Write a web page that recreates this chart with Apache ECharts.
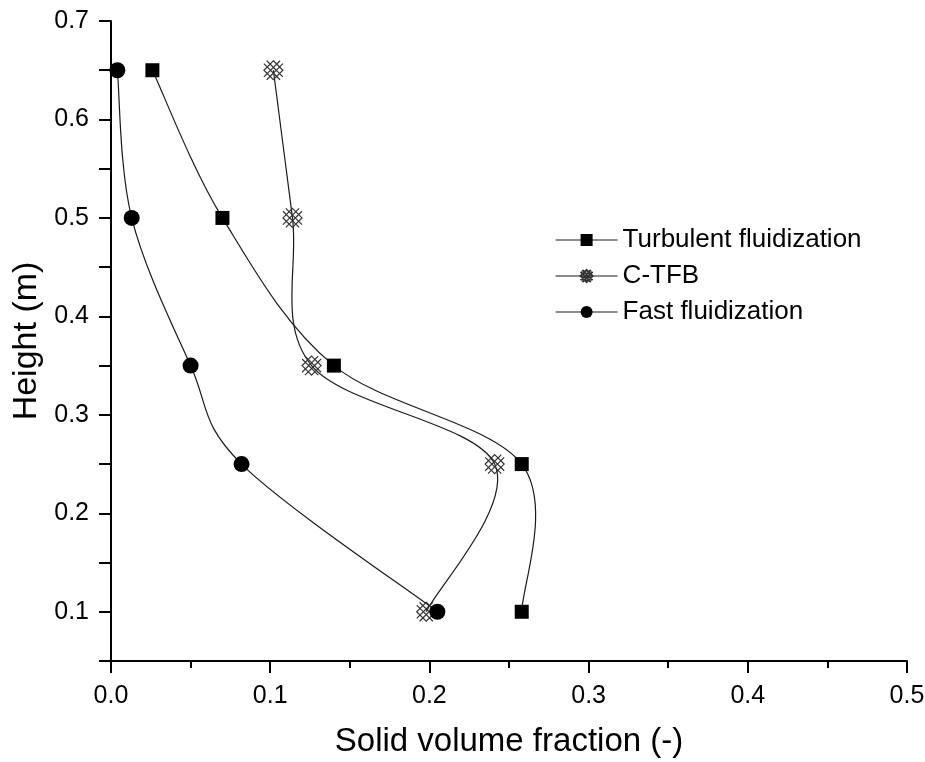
<!DOCTYPE html>
<html>
<head>
<meta charset="utf-8">
<script src="https://cdn.jsdelivr.net/npm/echarts@6/dist/echarts.min.js"></script>
<style>
  html, body { margin: 0; padding: 0; background: #fff; }
  #main { width: 925px; height: 762px; }
</style>
</head>
<body>
<div id="main"></div>
<script>
// heights (m), top to bottom
const heights = [0.65, 0.5, 0.35, 0.25, 0.1]
// solid volume fraction per regime
const turbulent = [0.026, 0.070, 0.140, 0.258, 0.258]
const ctfb = [0.102, 0.114, 0.126, 0.241, 0.198]
const fast = [0.004, 0.013, 0.050, 0.082, 0.205]

const seriesNames = ['Turbulent fluidization', 'C-TFB', 'Fast fluidization']
const xTicks = ['0.0', '0.1', '0.2', '0.3', '0.4', '0.5']

// crossed diamond symbol (C-TFB)
const crossDiamond = 'path://M10,0 L20,10 L10,20 L0,10 Z M3,0 L20,17 M0,3 L17,20 M17,0 L0,17 M20,3 L3,20'

const FONT = 'Liberation Sans, Arial, sans-serif'

const pairs = vals => vals.map((v, i) => [v, heights[i]])

// spline through the points (catmull-rom), drawn in pixel space from api.coord
function splineItem (vals) {
  return function (params, api) {
    if (params.dataIndex !== 0) return null
    const p = pairs(vals).map(d => api.coord(d))
    let d = 'M' + p[0][0] + ',' + p[0][1]
    for (let i = 0; i < p.length - 1; i++) {
      const p0 = p[i - 1] || p[i]
      const p1 = p[i]
      const p2 = p[i + 1]
      const p3 = p[i + 2] || p[i + 1]
      const c1x = p1[0] + (p2[0] - p0[0]) / 6
      const c1y = p1[1] + (p2[1] - p0[1]) / 6
      const c2x = p2[0] - (p3[0] - p1[0]) / 6
      const c2y = p2[1] - (p3[1] - p1[1]) / 6
      d += ' C' + c1x + ',' + c1y + ' ' + c2x + ',' + c2y + ' ' + p2[0] + ',' + p2[1]
    }
    return {
      type: 'path',
      shape: { pathData: d },
      style: { fill: 'none', stroke: '#1a1a1a', lineWidth: 1.2 }
    }
  }
}

const chart = echarts.init(document.getElementById('main'))

chart.setOption({
  animation: false,
  textStyle: { fontFamily: FONT, color: '#000' },
  grid: { left: 111, right: 18, top: 21, bottom: 101, outerBoundsMode: 'none', containLabel: false },
  legend: {
    left: 550,
    top: 222,
    orient: 'vertical',
    itemWidth: 62,
    itemHeight: 15,
    itemGap: 10,
    lineStyle: { color: '#1a1a1a', width: 1.2, opacity: 1 },
    textStyle: { fontSize: 26, color: '#000', fontFamily: FONT, padding: [0, 0, 0, 0] },
    data: seriesNames
  },
  xAxis: {
    type: 'value',
    min: 0,
    max: 0.5,
    interval: 0.1,
    name: 'Solid volume fraction (-)',
    nameLocation: 'middle',
    nameGap: 64,
    nameTextStyle: { fontSize: 33, color: '#000', fontFamily: FONT },
    axisLine: { lineStyle: { color: '#000', width: 2 } },
    axisTick: { length: 12, lineStyle: { color: '#000', width: 2 } },
    minorTick: { show: true, splitNumber: 2, length: 7, lineStyle: { color: '#000', width: 2 } },
    splitLine: { show: false },
    axisLabel: {
      fontSize: 25,
      color: '#000',
      fontFamily: FONT,
      margin: 23,
      formatter: v => xTicks[Math.round(v * 10)]
    }
  },
  yAxis: {
    type: 'value',
    min: 0.05,
    max: 0.7,
    interval: 0.05,
    name: 'Height (m)',
    nameLocation: 'middle',
    nameGap: 66,
    nameTextStyle: { fontSize: 34, color: '#000', fontFamily: FONT },
    axisLine: { show: true, lineStyle: { color: '#000', width: 2 } },
    axisTick: {
      show: true,
      length: 12,
      lineStyle: { color: '#000', width: 2 }
    },
    splitLine: { show: false },
    axisLabel: {
      fontSize: 25,
      color: '#000',
      fontFamily: FONT,
      margin: 22,
      formatter: v => (Math.round(v * 100) % 10 === 0 ? v.toFixed(1) : '')
    }
  },
  series: [
    {
      name: seriesNames[0],
      type: 'line',
      data: pairs(turbulent),
      symbol: 'rect',
      symbolSize: 14,
      z: 3,
      itemStyle: { color: '#000' },
      lineStyle: { opacity: 0 }
    },
    {
      name: seriesNames[1],
      type: 'line',
      data: pairs(ctfb),
      symbol: crossDiamond,
      symbolSize: 19,
      z: 3,
      itemStyle: { color: 'rgba(255,255,255,0)', borderColor: '#333', borderWidth: 1.2 },
      lineStyle: { opacity: 0 }
    },
    {
      name: seriesNames[2],
      type: 'line',
      data: pairs(fast),
      symbol: 'circle',
      symbolSize: 16,
      z: 3,
      itemStyle: { color: '#000' },
      lineStyle: { opacity: 0 }
    },
    { name: 'curve0', type: 'custom', data: pairs(turbulent), z: 1, renderItem: splineItem(turbulent) },
    { name: 'curve1', type: 'custom', data: pairs(ctfb), z: 1, renderItem: splineItem(ctfb) },
    { name: 'curve2', type: 'custom', data: pairs(fast), z: 1, renderItem: splineItem(fast) }
  ]
})
</script>
</body>
</html>
